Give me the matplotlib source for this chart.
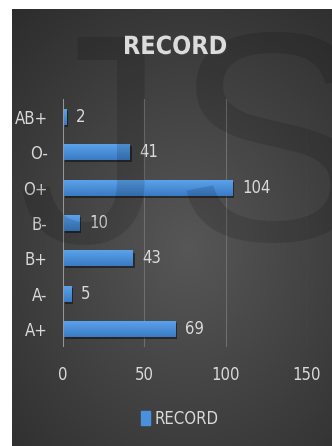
import os
import numpy as np
import matplotlib.pyplot as plt
import matplotlib.patheffects as pe
from matplotlib import font_manager as fm
from matplotlib.patches import Rectangle

# blood group records, bottom to top as drawn
groups = ['A+', 'A-', 'B+', 'B-', 'O+', 'O-', 'AB+']
counts = [69, 5, 43, 10, 104, 41, 2]
xticks = [0, 50, 100, 150]


def pick_font(files, size, fallback='Lato', weight='normal'):
    # look for a narrow face first, since the original uses a condensed font
    have = {os.path.basename(f.fname): f.fname for f in fm.fontManager.ttflist}
    for name in files:
        if name in have:
            return fm.FontProperties(fname=have[name], size=size)
    return fm.FontProperties(family=fallback, size=size, weight=weight)


regular = ['LiberationSansNarrow-Regular.ttf', 'DejaVuSansCondensed.ttf',
           'RobotoCondensed-Regular.ttf', 'OpenSans_Condensed-Regular.ttf']
bold = ['LiberationSansNarrow-Bold.ttf', 'DejaVuSansCondensed-Bold.ttf',
        'RobotoCondensed-Bold.ttf', 'OpenSans_Condensed-Bold.ttf']

txt_col = '#d9d9d9'
bar_col = '#4a90dc'

W, H = 332, 446
fig = plt.figure(figsize=(W / 100, H / 100), dpi=100)
fig.patch.set_facecolor('white')

# dark panel with a soft radial glow
bg = fig.add_axes([12 / W, 0, (W - 12) / W, (H - 9) / H])
yy, xx = np.mgrid[0:1:300j, 0:1:300j]
r = np.sqrt(((xx - 0.55) / 0.9) ** 2 + ((yy - 0.45) / 0.8) ** 2)
glow = np.clip(1 - r, 0, 1)
img = np.dstack([0.16 + 0.18 * glow] * 3)
bg.imshow(img, extent=[0, 1, 0, 1], aspect='auto', origin='lower')
bg.set_xlim(0, 1)
bg.set_ylim(0, 1)
bg.axis('off')

# faint "JS" watermark behind the chart
fig.text(17 / W, 1 - 27 / H, 'J', fontsize=214, family='Liberation Sans', color='black',
         alpha=0.13, ha='left', va='top')
fig.text(172 / W, 1 - 25 / H, 'S', fontsize=214, family='Liberation Sans', color='black',
         alpha=0.13, ha='left', va='top')

ax = fig.add_axes([63 / W, 1 - 347 / H, 244 / W, 248 / H])
ax.patch.set_alpha(0)
ypos = np.arange(len(groups))
bars = ax.barh(ypos, counts, height=0.45, color=bar_col, zorder=3,
               path_effects=[pe.SimplePatchShadow(offset=(1.5, -1.5), shadow_rgbFace='black', alpha=0.45),
                             pe.Normal()])

# vertical shading on each bar, lighter on top
grad = np.linspace(0, 1, 50).reshape(-1, 1)
cmap = plt.matplotlib.colors.LinearSegmentedColormap.from_list('b', ['#3a7bc4', '#5aa2ea'])
for b in bars:
    x0, y0, w, h = b.get_x(), b.get_y(), b.get_width(), b.get_height()
    im = ax.imshow(grad, extent=[x0, x0 + w, y0, y0 + h], origin='lower', cmap=cmap,
                   aspect='auto', zorder=3.5)
    im.set_clip_path(b)

lab_font = pick_font(regular, 12)
for y, v in zip(ypos, counts):
    ax.annotate(str(v), (v, y), xytext=(7, 0), textcoords='offset points', va='center',
                ha='left', color=txt_col, fontproperties=lab_font)

ax.set_xlim(0, 150)
ax.set_ylim(-0.5, len(groups) - 0.5)
ax.set_xticks(xticks)
ax.set_yticks(ypos)
ax.set_yticklabels(groups)
ax.grid(axis='x', color='#6e6e6e', linewidth=0.8, zorder=0)
ax.axvline(0, color='#9a9a9a', linewidth=1.3, zorder=4)
for s in ax.spines.values():
    s.set_visible(False)
ax.tick_params(length=0, colors=txt_col)
ax.tick_params(axis='x', pad=14)
ax.tick_params(axis='y', pad=11)
for lab in ax.get_xticklabels() + ax.get_yticklabels():
    lab.set_fontproperties(lab_font)

fig.text(175 / W, 1 - 47 / H, 'RECORD', ha='center', va='center', color='#dcdcdc',
         fontproperties=pick_font(bold, 18, weight='bold'),
         path_effects=[pe.withSimplePatchShadow(offset=(1, -1), alpha=0.5)])

leg = fig.legend([Rectangle((0, 0), 1, 1, color=bar_col)], ['RECORD'],
                 loc='center', bbox_to_anchor=(180 / W, 1 - 419 / H), frameon=False,
                 handlelength=0.5, handleheight=0.9, handletextpad=0.3,
                 prop=pick_font(regular, 12))
for t in leg.get_texts():
    t.set_color(txt_col)

fig.savefig('out.png', dpi=100)
